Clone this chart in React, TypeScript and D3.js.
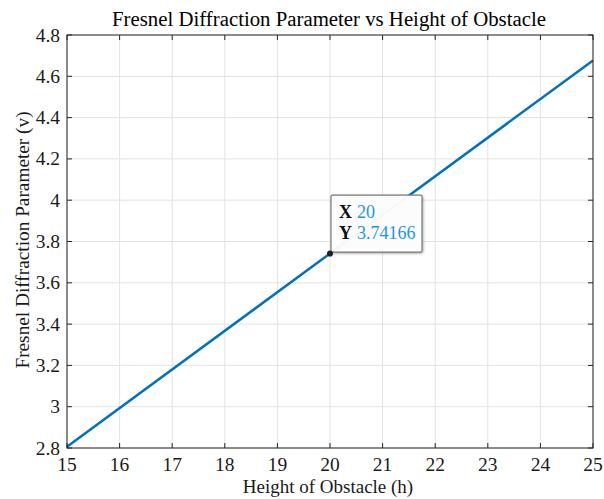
import React from "react";
import * as d3 from "d3";

const hValues = [15, 20, 25];
const vValues = [2.80624, 3.74166, 4.67707];
const xTicks = [15, 16, 17, 18, 19, 20, 21, 22, 23, 24, 25];
const yTicks = [2.8, 3, 3.2, 3.4, 3.6, 3.8, 4, 4.2, 4.4, 4.6, 4.8];
const tipX = 20;
const tipY = 3.74166;

export default function App() {
  const W = 604, H = 499;
  const L = 67, R = 593, T = 35, B = 448;
  const x = d3.scaleLinear().domain([15, 25]).range([L, R]);
  const y = d3.scaleLinear().domain([2.8, 4.8]).range([B, T]);
  const line = d3.line<number>().x((_, i) => x(hValues[i])).y((d) => y(d));
  const font = "Liberation Serif, Times New Roman, Times, serif";
  const fs = { fontFamily: font };
  const tickLen = 5;
  const px = x(tipX), py = y(tipY);
  return (
    <svg width={W} height={H} style={{ position: "absolute", left: 0, top: 0, background: "#fff", fontFamily: font }}>
      <rect x={0} y={0} width={W} height={H} fill="#fff" />
      {xTicks.map((t) => (
        <line key={"gx" + t} x1={x(t)} x2={x(t)} y1={T} y2={B} stroke="#e3e3e3" strokeWidth={1} />
      ))}
      {yTicks.map((t) => (
        <line key={"gy" + t} x1={L} x2={R} y1={y(t)} y2={y(t)} stroke="#e3e3e3" strokeWidth={1} />
      ))}
      <path d={line(vValues) || ""} fill="none" stroke="#0072BD" strokeWidth={2.5} />
      {xTicks.map((t) => (
        <g key={"tx" + t}>
          <line x1={x(t)} x2={x(t)} y1={B} y2={B - tickLen} stroke="#262626" />
          <line x1={x(t)} x2={x(t)} y1={T} y2={T + tickLen} stroke="#262626" />
          <text x={x(t)} y={B + 23} textAnchor="middle" fontSize={19.5} style={fs} fill="#1a1a1a">{t}</text>
        </g>
      ))}
      {yTicks.map((t) => (
        <g key={"ty" + t}>
          <line x1={L} x2={L + tickLen} y1={y(t)} y2={y(t)} stroke="#262626" />
          <line x1={R} x2={R - tickLen} y1={y(t)} y2={y(t)} stroke="#262626" />
          <text x={L - 7} y={y(t) + 6.5} textAnchor="end" fontSize={19.5} style={fs} fill="#1a1a1a">{String(t)}</text>
        </g>
      ))}
      <rect x={L} y={T} width={R - L} height={B - T} fill="none" stroke="#262626" strokeWidth={1} />
      <text x={329} y={26} textAnchor="middle" fontSize={20.8} style={fs} fill="#000">Fresnel Diffraction Parameter vs Height of Obstacle</text>
      <text x={328} y={493} textAnchor="middle" fontSize={19} style={fs} fill="#1a1a1a">Height of Obstacle (h)</text>
      <text transform={`translate(28.5,240) rotate(-90)`} textAnchor="middle" fontSize={19.3} style={fs} fill="#1a1a1a">Fresnel Diffraction Parameter (v)</text>
      <g>
        <rect x={px + 1} y={py - 58.5} width={91} height={57} fill="#fff" fillOpacity={0.96} stroke="#7a7a7a" strokeWidth={1.2} rx={1.5} filter="drop-shadow(1px 1px 1px rgba(0,0,0,0.3))" />
        <text x={px + 9} y={py - 35.5} fontSize={18} style={fs} fill="#111"><tspan fontWeight="bold">X</tspan><tspan fill="#1a96e6" dx={5}>{tipX}</tspan></text>
        <text x={px + 9} y={py - 14.5} fontSize={18} style={fs} fill="#111"><tspan fontWeight="bold">Y</tspan><tspan fill="#1a96e6" dx={5}>{tipY}</tspan></text>
      </g>
      <circle cx={px} cy={py} r={3} fill="#222" />
    </svg>
  );
}
